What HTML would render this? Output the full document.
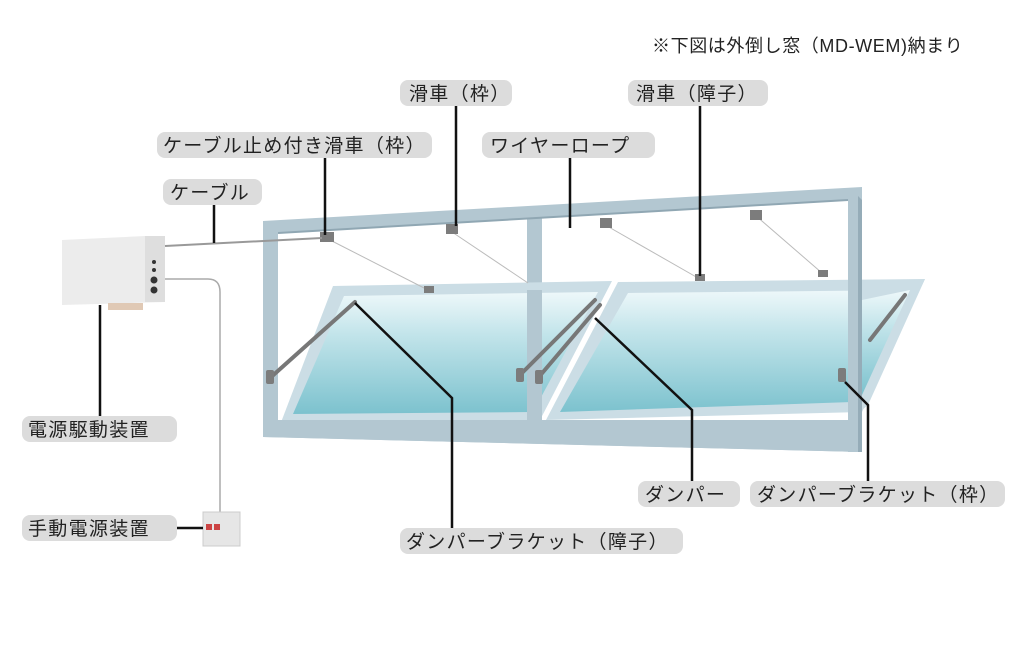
<!DOCTYPE html>
<html><head><meta charset="utf-8"><style>
html,body{margin:0;padding:0;background:#fff;}
svg{display:block;}
text{font-family:"Liberation Sans","Noto Sans CJK JP",sans-serif;font-size:19px;letter-spacing:1.3px;fill:#222;}
</style></head><body>
<svg width="1024" height="661" viewBox="0 0 1024 661" xmlns="http://www.w3.org/2000/svg">
<defs>
<linearGradient id="g" x1="0" y1="0" x2="0" y2="1">
<stop offset="0" stop-color="#eef8fa"/><stop offset="0.35" stop-color="#c2e4ea"/><stop offset="1" stop-color="#7cc2ce"/>
</linearGradient>
</defs>
<text x="652" y="52" style="font-size:18px;letter-spacing:0.6px">※下図は外倒し窓（MD-WEM)納まり</text>

<!-- outer frame -->
<polygon points="263,221 862,187 862,452 263,437" fill="#b3c7d1"/>
<polygon points="278,233 848,200 848,422 278,422" fill="#fff"/>
<polygon points="527,215 542,214 542,435 527,434" fill="#b3c7d1"/>
<line x1="278" y1="233" x2="848" y2="200" stroke="#90a7b3" stroke-width="2"/>

<!-- sashes -->
<polygon points="333,286 612,281 540,420 280,425" fill="#cbdde5"/>
<polygon points="344,296 598,292 533,412 293,414" fill="url(#g)"/>
<polygon points="618,282 925,279 862,412 546,420" fill="#cbdde5"/>
<polygon points="628,293 910,290 852,402 560,412" fill="url(#g)"/>
<polygon points="527,290 542,290 542,435 527,434" fill="#b3c7d1"/>
<polygon points="263,420 862,420 862,452 263,437" fill="#b3c7d1"/>
<polygon points="263,221 278,221 278,437 263,437" fill="#b3c7d1"/>
<polygon points="848,200 862,200 862,452 848,452" fill="#b3c7d1"/>
<polygon points="862,200 862,452 858,452 858,196" fill="#95acb8"/>
<polygon points="862,290 925,279 868,405 862,410" fill="#cbdde5"/>
<polygon points="862,300 910,290 862,395" fill="url(#g)"/>

<!-- wires -->
<g stroke="#bbb" stroke-width="1">
<line x1="330" y1="240" x2="428" y2="290"/>
<line x1="452" y1="232" x2="528" y2="283"/>
<line x1="607" y1="226" x2="698" y2="278"/>
<line x1="755" y1="215" x2="822" y2="273"/>
</g>
<g stroke="#777" stroke-width="4" stroke-linecap="round">
<line x1="270" y1="378" x2="355" y2="302"/>
<line x1="538" y1="378" x2="600" y2="305"/>
<line x1="520" y1="375" x2="595" y2="300"/>
<line x1="870" y1="340" x2="905" y2="295"/>
</g>
<g fill="#7c7c7c">
<rect x="266" y="370" width="8" height="14" rx="2"/><rect x="516" y="368" width="8" height="14" rx="2"/>
<rect x="535" y="370" width="8" height="14" rx="2"/><rect x="838" y="368" width="8" height="14" rx="2"/>
<rect x="320" y="232" width="14" height="10"/><rect x="446" y="224" width="12" height="10"/>
<rect x="600" y="218" width="12" height="10"/><rect x="750" y="210" width="12" height="10"/>
<rect x="424" y="286" width="10" height="7"/><rect x="695" y="274" width="10" height="7"/><rect x="818" y="270" width="10" height="7"/>
</g>

<!-- power unit -->
<polygon points="62,240 145,236 165,238 165,302 62,305" fill="#ececec"/>
<rect x="145" y="236" width="20" height="66" fill="#dedede"/>
<rect x="108" y="303" width="35" height="7" fill="#e0c9b5"/>
<circle cx="154" cy="262" r="2" fill="#333"/><circle cx="154" cy="270" r="2" fill="#333"/>
<circle cx="154" cy="280" r="3.5" fill="#333"/><circle cx="154" cy="290" r="3.5" fill="#333"/>
<line x1="165" y1="246" x2="322" y2="238" stroke="#999" stroke-width="2"/>
<path d="M165,279 H208 Q220,279 220,292 V512" fill="none" stroke="#aaa" stroke-width="1.5"/>
<rect x="203" y="512" width="37" height="34" fill="#e6e6e6" stroke="#ccc"/>
<rect x="206" y="524" width="6" height="6" fill="#c44"/><rect x="214" y="524" width="6" height="6" fill="#c44"/>

<g stroke="#111" stroke-width="2.5" fill="none">
<line x1="325" y1="158" x2="325" y2="235"/>
<line x1="456" y1="106" x2="456" y2="226"/>
<line x1="570" y1="158" x2="570" y2="228"/>
<line x1="700" y1="106" x2="700" y2="276"/>
<line x1="214" y1="205" x2="214" y2="243"/>
<line x1="100" y1="305" x2="100" y2="416"/>
<line x1="177" y1="528" x2="203" y2="528"/>
<polyline points="355,303 452,398 452,528"/>
<polyline points="595,318 692,410 692,481"/>
<polyline points="845,382 868,405 868,481"/>
</g>

<g fill="#dcdcdc">
<rect x="400" y="80" width="112" height="26" rx="8"/>
<rect x="628" y="80" width="140" height="26" rx="8"/>
<rect x="157" y="132" width="275" height="26" rx="8"/>
<rect x="482" y="132" width="173" height="26" rx="8"/>
<rect x="163" y="179" width="99" height="26" rx="8"/>
<rect x="22" y="416" width="155" height="26" rx="8"/>
<rect x="22" y="515" width="155" height="26" rx="8"/>
<rect x="638" y="481" width="102" height="26" rx="8"/>
<rect x="750" y="481" width="255" height="26" rx="8"/>
<rect x="400" y="528" width="283" height="26" rx="8"/>
</g>
<text x="409" y="100">滑車（枠）</text>
<text x="636" y="100">滑車（障子）</text>
<text x="163" y="152">ケーブル止め付き滑車（枠）</text>
<text x="490" y="152">ワイヤーロープ</text>
<text x="170" y="199">ケーブル</text>
<text x="28" y="436">電源駆動装置</text>
<text x="28" y="535">手動電源装置</text>
<text x="645" y="501">ダンパー</text>
<text x="757" y="501">ダンパーブラケット（枠）</text>
<text x="406" y="548">ダンパーブラケット（障子）</text>
</svg>
</body></html>
